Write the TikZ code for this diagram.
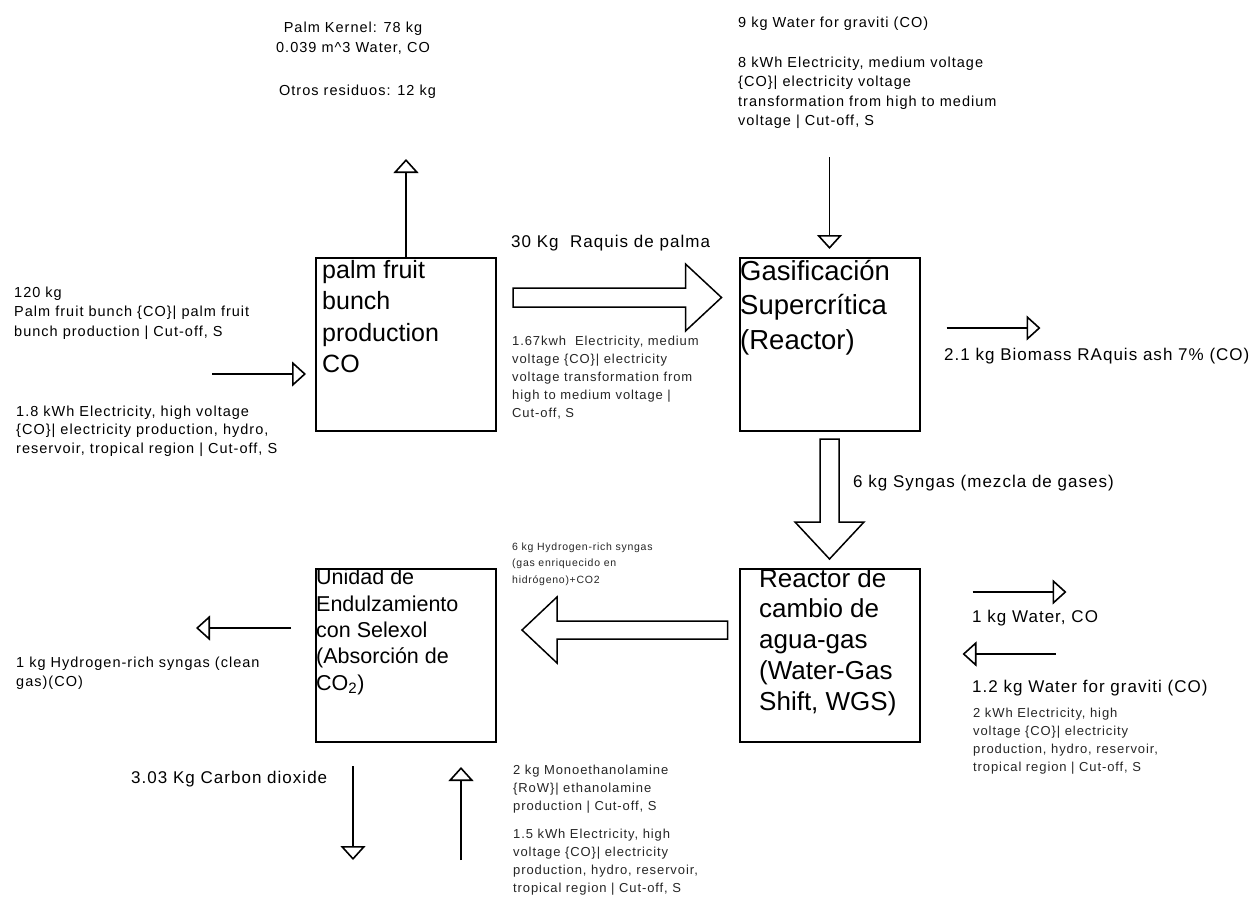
\documentclass[tikz,border=0pt]{standalone}
\usepackage{fontspec}
\setmainfont{Liberation Sans}
\newfontfamily\lblfont[LetterSpace=6]{Liberation Sans}
\newfontfamily\notefont[LetterSpace=7]{Liberation Sans}
\usetikzlibrary{arrows.meta,calc,positioning}

% multi-line nodes are placed by the baseline of their last line
\tikzstyle{lca_style}=[x=1pt,y=-1pt,
  proc/.style={rectangle,draw,line width=2pt,minimum width=180pt,minimum height=173pt,inner sep=0pt},
  boxtext/.style={anchor=base west,inner sep=0pt,align=left},
  flow/.style={line width=1.6pt,-{Triangle[open,length=14pt,width=25pt]}},
  fat/.style={line width=1.5pt,fill=white,line join=miter},
  note/.style={anchor=base west,inner sep=0pt,align=left,font=\notefont\fontsize{14.5}{19.5}\selectfont},
  small/.style={anchor=base west,inner sep=0pt,align=left,text=black!85,font=\notefont\fontsize{13}{18}\selectfont},
  tiny/.style={anchor=base west,inner sep=0pt,align=left,text=black!85,font=\notefont\fontsize{10.5}{16.5}\selectfont},
  flowlabel/.style={anchor=base west,inner sep=0pt,font=\lblfont\fontsize{17}{20}\selectfont},]

\begin{document}
\begin{tikzpicture}[lca_style]
    \useasboundingbox[fill=white] (0,0) rectangle (1260,897);

    % Process boxes
    \node[proc] (palm)    at (406,344.5) {};
    \node[proc] (gasif)   at (829.5,344.5) {};
    \node[proc] (wgs)     at (829.5,655.5) {};
    \node[proc] (selexol) at (406,655.5) {};

    % Text inside the boxes
    \node[boxtext,font=\fontsize{25}{31.5}\selectfont] (palm-txt) at (322,372.5)
        {palm fruit\\bunch\\production\\CO};
    \node[boxtext,font=\fontsize{27.5}{34.5}\selectfont] (gasif-txt) at (740,349)
        {Gasificación\\Supercrítica\\(Reactor)};
    \node[boxtext,font=\fontsize{26}{30.75}\selectfont] (wgs-txt) at (759,710)
        {Reactor de\\cambio de\\agua-gas\\(Water-Gas\\Shift, WGS)};
    \node[boxtext,font=\fontsize{21.5}{26.3}\selectfont] (selexol-txt) at (316,690)
        {Unidad de\\Endulzamiento\\con Selexol\\(Absorción de\\CO\textsubscript{2})};

    % Free ends of the single flows
    \coordinate (kernel-end) at ($(palm.north)+(0,-98)$);
    \coordinate (bunch-in)   at (212,374);
    \coordinate (water-in)   at ($(gasif.north)+(0,-100)$);
    \coordinate (ash-start)  at ($(gasif.east)+(26,-16.5)$);
    \coordinate (ash-end)    at ($(ash-start)+(94,0)$);
    \coordinate (clean-start) at ($(selexol.west)+(-24,-27.5)$);
    \coordinate (clean-end)  at ($(clean-start)+(-95,0)$);
    \coordinate (co2-start)  at (353,766);
    \coordinate (co2-end)    at (353,860);
    \coordinate (mea-start)  at (461,860);
    \coordinate (mea-end)    at (461,767);
    \coordinate (wout-start) at ($(wgs.east)+(52,-63.5)$);
    \coordinate (wout-end)   at ($(wout-start)+(94,0)$);
    \coordinate (win-start)  at ($(wgs.east)+(135,-1.5)$);
    \coordinate (win-end)    at ($(wgs.east)+(42,-1.5)$);

    % Single flows
    \draw[flow] (palm.north) -- (kernel-end);
    \draw[flow,shorten >=9pt] (bunch-in) -- (bunch-in -| palm.west);
    \draw[flow,shorten >=8pt] (water-in) -- (gasif.north);
    \draw[flow] (ash-start) -- (ash-end);
    \draw[flow] (clean-start) -- (clean-end);
    \draw[flow] (co2-start) -- (co2-end);
    \draw[flow] (mea-start) -- (mea-end);
    \draw[flow] (wout-start) -- (wout-end);
    \draw[flow] (win-start) -- (win-end);

    % Main product flows (wide arrows)
    \coordinate (raq-s) at ($(palm.east)+(16,-47)$);
    \coordinate (raq-t) at ($(gasif.west)+(-17,-47)$);
    \draw[fat] ($(raq-s)+(0,-9.5)$) -- ($(raq-t)+(-36,-9.5)$) -- ($(raq-t)+(-36,-33.5)$)
        -- (raq-t) -- ($(raq-t)+(-36,33.5)$) -- ($(raq-t)+(-36,9.5)$) -- ($(raq-s)+(0,9.5)$) -- cycle;

    \coordinate (syn-s) at ($(gasif.south)+(0,7)$);
    \coordinate (syn-t) at ($(wgs.north)+(0,-9)$);
    \draw[fat] ($(syn-s)+(-9.5,0)$) -- ($(syn-t)+(-9.5,-37)$) -- ($(syn-t)+(-34.5,-37)$)
        -- (syn-t) -- ($(syn-t)+(34.5,-37)$) -- ($(syn-t)+(9.5,-37)$) -- ($(syn-s)+(9.5,0)$) -- cycle;

    \coordinate (h2-s) at ($(wgs.west)+(-11,-25.5)$);
    \coordinate (h2-t) at ($(selexol.east)+(25,-25.5)$);
    \draw[fat] ($(h2-s)+(0,-9)$) -- ($(h2-t)+(35,-9)$) -- ($(h2-t)+(35,-33)$)
        -- (h2-t) -- ($(h2-t)+(35,33)$) -- ($(h2-t)+(35,9)$) -- ($(h2-s)+(0,9)$) -- cycle;

    % Labels
    \node[note,anchor=base,align=center,font=\notefont\fontsize{14.5}{20}\selectfont] (kernel-lbl) at (353,52)
        {Palm Kernel: 78 kg\\0.039 m\^{}3 Water, CO};
    \node[note,anchor=base] (otros-lbl) at (357.5,95) {Otros residuos: 12 kg};
    \node[note] (bunch-lbl) at (14,336)
        {120 kg\\Palm fruit bunch \{CO\}| palm fruit\\bunch production | Cut-off, S};
    \node[note,font=\notefont\fontsize{14.5}{18.5}\selectfont] (elec1-lbl) at (16,453)
        {1.8 kWh Electricity, high voltage\\\{CO\}| electricity production, hydro,\\reservoir, tropical region | Cut-off, S};
    \node[note] (water1-lbl) at (738,27) {9 kg Water for graviti (CO)};
    \node[note] (elec2-lbl) at (738,125.5)
        {8 kWh Electricity, medium voltage\\\{CO\}| electricity voltage\\transformation from high to medium\\voltage | Cut-off, S};
    \node[flowlabel] (raq-lbl) at (511,247) {30 Kg \ Raquis de palma};
    \node[small] (elec3-lbl) at (512,417)
        {1.67kwh \ Electricity, medium\\voltage \{CO\}| electricity\\voltage transformation from\\high to medium voltage |\\Cut-off, S};
    \node[flowlabel] (ash-lbl) at (944,360) {2.1 kg Biomass RAquis ash 7\% (CO)};
    \node[flowlabel] (syn-lbl) at (853,487) {6 kg Syngas (mezcla de gases)};
    \node[tiny] (h2-lbl) at (512,583)
        {6 kg Hydrogen-rich syngas\\(gas enriquecido en\\hidrógeno)+CO2};
    \node[note] (clean-lbl) at (16,686.5)
        {1 kg Hydrogen-rich syngas (clean\\gas)(CO)};
    \node[flowlabel] (co2-lbl) at (131,783) {3.03 Kg Carbon dioxide};
    \node[small] (mea-lbl) at (513,810)
        {2 kg Monoethanolamine\\\{RoW\}| ethanolamine\\production | Cut-off, S};
    \node[small] (elec4-lbl) at (513,892)
        {1.5 kWh Electricity, high\\voltage \{CO\}| electricity\\production, hydro, reservoir,\\tropical region | Cut-off, S};
    \node[flowlabel] (wout-lbl) at (972,622) {1 kg Water, CO};
    \node[flowlabel] (win-lbl) at (972,692) {1.2 kg Water for graviti (CO)};
    \node[small] (elec5-lbl) at (973,771)
        {2 kWh Electricity, high\\voltage \{CO\}| electricity\\production, hydro, reservoir,\\tropical region | Cut-off, S};

\end{tikzpicture}
\end{document}
